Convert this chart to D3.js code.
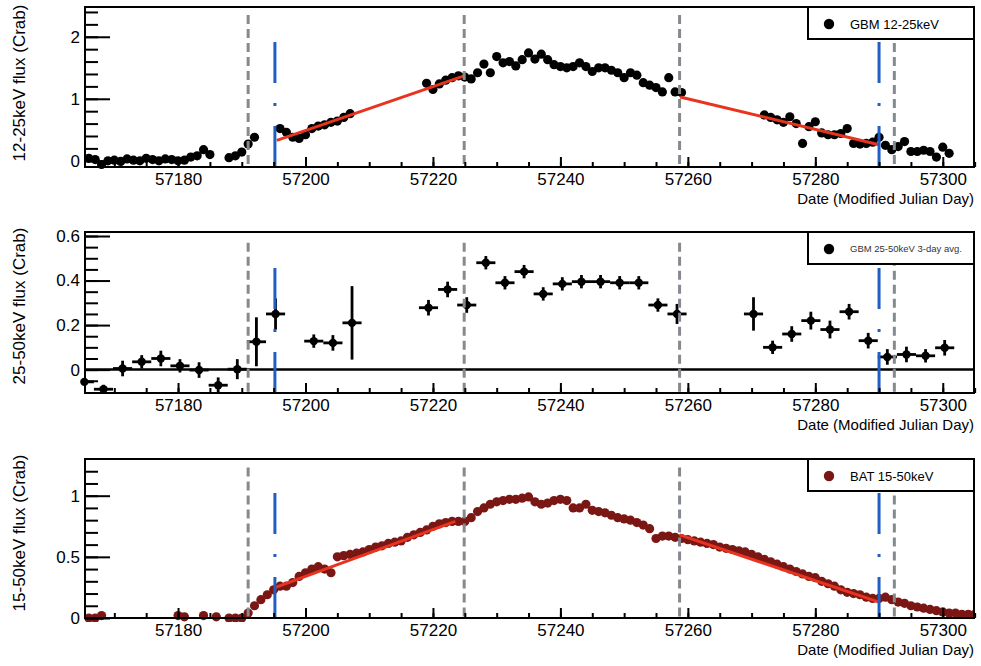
<!DOCTYPE html>
<html>
<head>
<meta charset="utf-8">
<script src="https://cdn.jsdelivr.net/npm/d3@7"></script>
<style>
  body { margin: 0; background: #fff; }
  svg { font-family: "Liberation Sans", Arial, sans-serif; }
</style>
</head>
<body>
<div id="chart"></div>
<script>
// GBM 12-25 keV daily flux (Crab)
var gbmLowDays = [57166, 57167, 57168, 57169, 57170, 57171, 57172, 57173, 57174, 57175,
  57176, 57177, 57178, 57179, 57180, 57181, 57182, 57183, 57184, 57185,
  57188, 57189, 57190, 57191, 57192,
  57196, 57197, 57198, 57199, 57200, 57201, 57202, 57203, 57204, 57205, 57206, 57207,
  57219, 57220, 57221, 57222, 57223, 57224, 57225, 57226, 57227, 57228, 57229, 57230,
  57231, 57232, 57233, 57234, 57235, 57236, 57237, 57238, 57239, 57240, 57241, 57242,
  57243, 57244, 57245, 57246, 57247, 57248, 57249, 57250, 57251, 57252, 57253, 57254,
  57255, 57256, 57257, 57258, 57259,
  57272, 57273, 57274, 57275, 57276, 57277, 57278, 57279, 57280, 57281, 57282, 57283,
  57284, 57285, 57286, 57287, 57288, 57289, 57290, 57291, 57292, 57293, 57294, 57295,
  57296, 57297, 57298, 57299, 57300, 57301];
var gbmLowFlux = [0.04, 0.02, -0.06, 0.00, 0.01, -0.01, 0.03, 0.01, 0.00, 0.04,
  0.02, 0.00, 0.03, 0.02, 0.00, 0.01, 0.06, 0.08, 0.18, 0.10,
  0.05, 0.08, 0.14, 0.27, 0.38,
  0.52, 0.46, 0.38, 0.36, 0.42, 0.52, 0.56, 0.58, 0.62, 0.64, 0.70, 0.76,
  1.25, 1.15, 1.24, 1.30, 1.34, 1.37, 1.35, 1.32, 1.42, 1.56, 1.42, 1.68,
  1.58, 1.60, 1.53, 1.63, 1.74, 1.64, 1.72, 1.63, 1.55, 1.52, 1.50, 1.52,
  1.58, 1.52, 1.44, 1.50, 1.50, 1.46, 1.42, 1.34, 1.42, 1.38, 1.26, 1.22,
  1.18, 1.11, 1.34, 1.11, 1.10,
  0.74, 0.70, 0.66, 0.62, 0.71, 0.60, 0.28, 0.55, 0.63, 0.45, 0.42, 0.42,
  0.44, 0.52, 0.28, 0.27, 0.28, 0.30, 0.38, 0.25, 0.18, 0.23, 0.31, 0.15,
  0.15, 0.17, 0.15, 0.06, 0.22, 0.12];

// GBM 25-50 keV, 3-day averages with errors
var gbmHighDays = [57165.3, 57168.3, 57171.3, 57174.3, 57177.3, 57180.3, 57183.3, 57186.3,
  57189.3, 57192.3, 57195.3, 57201.3, 57204.3, 57207.3, 57219.3, 57222.3, 57225.3,
  57228.3, 57231.3, 57234.3, 57237.3, 57240.3, 57243.3, 57246.3, 57249.3, 57252.3,
  57255.3, 57258.3, 57270.3, 57273.3, 57276.3, 57279.3, 57282.3, 57285.3, 57288.3,
  57291.3, 57294.3, 57297.3, 57300.3];
var gbmHighFlux = [-0.055, -0.088, 0.005, 0.035, 0.05, 0.017, -0.002, -0.07,
  0.002, 0.125, 0.25, 0.128, 0.12, 0.21, 0.278, 0.36, 0.29,
  0.48, 0.39, 0.44, 0.34, 0.385, 0.395, 0.395, 0.39, 0.39,
  0.29, 0.25, 0.25, 0.10, 0.16, 0.22, 0.18, 0.26, 0.13,
  0.057, 0.068, 0.062, 0.098];
var gbmHighErr = [0.025, 0.02, 0.035, 0.03, 0.035, 0.03, 0.035, 0.035,
  0.045, 0.11, 0.07, 0.03, 0.035, 0.165, 0.035, 0.035, 0.035,
  0.03, 0.03, 0.03, 0.03, 0.03, 0.03, 0.03, 0.03, 0.03,
  0.03, 0.045, 0.075, 0.03, 0.035, 0.04, 0.04, 0.035, 0.035,
  0.035, 0.035, 0.03, 0.035];
var binHalfWidth = 1.5;

// BAT 15-50 keV daily flux (Crab)
var batDays = [57166, 57167, 57168, 57180, 57181, 57184, 57186, 57188, 57189, 57190,
  57191, 57192, 57193, 57194, 57195, 57196, 57197, 57198, 57199, 57200,
  57201, 57202, 57203, 57204, 57205, 57206, 57207, 57208, 57209, 57210,
  57211, 57212, 57213, 57214, 57215, 57216, 57217, 57218, 57219, 57220,
  57221, 57222, 57223, 57224, 57225, 57226, 57227, 57228, 57229, 57230,
  57231, 57232, 57233, 57234, 57235, 57236, 57237, 57238, 57239, 57240,
  57241, 57242, 57243, 57244, 57245, 57246, 57247, 57248, 57249, 57250,
  57251, 57252, 57253, 57254, 57255, 57256, 57257, 57258, 57259, 57260,
  57261, 57262, 57263, 57264, 57265, 57266, 57267, 57268, 57269, 57270,
  57271, 57272, 57273, 57274, 57275, 57276, 57277, 57278, 57279, 57280,
  57281, 57282, 57283, 57284, 57285, 57286, 57287, 57288, 57289, 57290,
  57291, 57292, 57293, 57294, 57295, 57296, 57297, 57298, 57299, 57300,
  57301, 57302, 57303, 57304, 57305];
var batFlux = [0.0, 0.0, 0.02, 0.02, 0.01, 0.02, 0.01, 0.0, 0.0, 0.0,
  0.04, 0.10, 0.15, 0.19, 0.23, 0.26, 0.26, 0.29, 0.34, 0.37,
  0.40, 0.42, 0.40, 0.37, 0.50, 0.51, 0.52, 0.53, 0.54, 0.56,
  0.58, 0.59, 0.61, 0.62, 0.63, 0.66, 0.68, 0.70, 0.72, 0.75,
  0.77, 0.78, 0.79, 0.79, 0.79, 0.82, 0.87, 0.90, 0.93, 0.95,
  0.96, 0.97, 0.97, 0.98, 0.99, 0.95, 0.93, 0.94, 0.96, 0.97,
  0.96, 0.90, 0.90, 0.93, 0.88, 0.87, 0.86, 0.84, 0.82, 0.81,
  0.80, 0.78, 0.76, 0.73, 0.65, 0.67, 0.67, 0.66, 0.65, 0.64,
  0.63, 0.62, 0.61, 0.60, 0.58, 0.57, 0.56, 0.55, 0.54, 0.52,
  0.50, 0.48, 0.46, 0.44, 0.42, 0.40, 0.38, 0.36, 0.34, 0.33,
  0.30, 0.28, 0.26, 0.23, 0.21, 0.20, 0.19, 0.17, 0.16, 0.16,
  0.17, 0.15, 0.13, 0.12, 0.10, 0.09, 0.08, 0.07, 0.06, 0.05,
  0.04, 0.04, 0.03, 0.03, 0.03];

// linear fits (start/end day and flux)
var gbmFitDays = [[57195.5, 57224.9], [57258.8, 57290.0]];
var gbmFitFlux = [[0.33, 1.37], [1.03, 0.26]];
var batFitDays = [[57195.3, 57223.5], [57258.7, 57290.0]];
var batFitFlux = [[0.25, 0.79], [0.68, 0.13]];

// marker lines
var grayLineDays = [57191.0, 57224.9, 57258.7, 57292.4];
var blueLineDays = [57195.2, 57290.0];

// axis ticks
var dateTicks = [57180, 57200, 57220, 57240, 57260, 57280, 57300];
var dateMinorTicks = d3.range(57170, 57306, 5);

var svgWidth = 981;
var svgHeight = 666;
var frameLeft = 85;
var frameRight = 974;

var svg = d3.select("#chart")
  .append("svg")
  .attr("width", svgWidth)
  .attr("height", svgHeight);

var x = d3.scaleLinear()
  .domain([57165.4, 57304.9])
  .range([frameLeft, frameRight]);

var panels = [
  {
    id: "a", top: 7, bottom: 167, yDomain: [-0.1, 2.48],
    majorY: [0, 1, 2], minorStep: 0.2, minorMax: 2.4,
    title: "12-25keV flux (Crab)", titleY: 83,
    lineTopGray: 2.35, lineTopBlue: 2.24,
    legend: "GBM 12-25keV", legendSize: 13, legendColor: "#000",
    color: "#000", days: gbmLowDays, flux: gbmLowFlux,
    fitDays: gbmFitDays, fitFlux: gbmFitFlux
  },
  {
    id: "b", top: 232, bottom: 393, yDomain: [-0.105, 0.618],
    majorY: [0, 0.2, 0.4, 0.6], minorStep: 0.05, minorMax: 0.6,
    title: "25-50keV flux (Crab)", titleY: 306,
    lineTopGray: 0.57, lineTopBlue: 0.545,
    legend: "GBM 25-50keV 3-day avg.", legendSize: 9.5, legendColor: "#333",
    color: "#000", days: gbmHighDays, flux: gbmHighFlux, err: gbmHighErr,
    zeroLine: true
  },
  {
    id: "c", top: 459, bottom: 618, yDomain: [0, 1.3],
    majorY: [0, 0.5, 1], minorStep: 0.1, minorMax: 1.2,
    title: "15-50keV flux (Crab)", titleY: 533,
    lineTopGray: 1.23, lineTopBlue: 1.18,
    legend: "BAT 15-50keV", legendSize: 13, legendColor: "#000",
    color: "#7a1714", days: batDays, flux: batFlux,
    fitDays: batFitDays, fitFlux: batFitFlux
  }
];

panels.forEach(drawPanel);

function drawPanel(p) {
  var y = d3.scaleLinear()
    .domain(p.yDomain)
    .range([p.bottom, p.top]);

  svg.append("clipPath")
    .attr("id", "clip-" + p.id)
    .append("rect")
    .attr("x", frameLeft)
    .attr("y", p.top)
    .attr("width", frameRight - frameLeft)
    .attr("height", p.bottom - p.top);

  // markers may poke a little past the left edge, like ROOT does
  svg.append("clipPath")
    .attr("id", "mclip-" + p.id)
    .append("rect")
    .attr("x", frameLeft - 6)
    .attr("y", p.top)
    .attr("width", frameRight - frameLeft + 6)
    .attr("height", p.bottom - p.top + 4);

  var g = svg.append("g").attr("clip-path", "url(#clip-" + p.id + ")");
  var gm = svg.append("g").attr("clip-path", "url(#mclip-" + p.id + ")");
  var gl = svg.append("g").attr("clip-path", "url(#clip-" + p.id + ")");

  // zero line for the 25-50 keV panel
  if (p.zeroLine) {
    g.append("line")
      .attr("x1", frameLeft).attr("x2", frameRight)
      .attr("y1", y(0)).attr("y2", y(0))
      .attr("stroke", "#000")
      .attr("stroke-width", 2.5);
  }

  var pts = p.days.map(function (d, i) {
    return { day: d, flux: p.flux[i], err: p.err ? p.err[i] : 0 };
  });

  // error bars
  if (p.err) {
    g.selectAll(".xerr")
      .data(pts)
      .enter()
      .append("line")
      .attr("x1", d => x(d.day - binHalfWidth))
      .attr("x2", d => x(d.day + binHalfWidth))
      .attr("y1", d => y(d.flux))
      .attr("y2", d => y(d.flux))
      .attr("stroke", p.color)
      .attr("stroke-width", 2.8);
    g.selectAll(".yerr")
      .data(pts)
      .enter()
      .append("line")
      .attr("x1", d => x(d.day))
      .attr("x2", d => x(d.day))
      .attr("y1", d => y(d.flux - d.err))
      .attr("y2", d => y(d.flux + d.err))
      .attr("stroke", p.color)
      .attr("stroke-width", 2.8);
  }

  gm.selectAll("circle")
    .data(pts)
    .enter()
    .append("circle")
    .attr("cx", d => x(d.day))
    .attr("cy", d => y(d.flux))
    .attr("r", p.err ? 4.2 : 4.6)
    .attr("fill", p.color);

  // fits
  if (p.fitDays) {
    p.fitDays.forEach(function (fd, i) {
      gl.append("line")
        .attr("x1", x(fd[0])).attr("x2", x(fd[1]))
        .attr("y1", y(p.fitFlux[i][0])).attr("y2", y(p.fitFlux[i][1]))
        .attr("stroke", "#e8341f")
        .attr("stroke-width", 3);
    });
  }

  // gray dashed lines
  gl.selectAll(".gray")
    .data(grayLineDays)
    .enter()
    .append("line")
    .attr("x1", d => x(d)).attr("x2", d => x(d))
    .attr("y1", y(p.lineTopGray))
    .attr("y2", p.bottom)
    .attr("stroke", "#858a8e")
    .attr("stroke-width", 3)
    .attr("stroke-dasharray", "9,5");

  // blue dash-dot lines, drawn from the bottom up
  gl.selectAll(".blue")
    .data(blueLineDays)
    .enter()
    .append("line")
    .attr("x1", d => x(d)).attr("x2", d => x(d))
    .attr("y1", p.bottom)
    .attr("y2", y(p.lineTopBlue))
    .attr("stroke", "#1f5fc4")
    .attr("stroke-width", 3)
    .attr("stroke-dasharray", "41,20,3,20");

  // legend
  var leg = svg.append("g");
  leg.append("rect")
    .attr("x", 808)
    .attr("y", p.top)
    .attr("width", frameRight - 808)
    .attr("height", 32)
    .attr("fill", "#fff")
    .attr("stroke", "#000")
    .attr("stroke-width", 2);
  leg.append("circle")
    .attr("cx", 829)
    .attr("cy", p.top + 17)
    .attr("r", 5.2)
    .attr("fill", p.color);
  leg.append("text")
    .attr("x", 850)
    .attr("y", p.top + 17)
    .attr("dy", "0.35em")
    .style("font-size", p.legendSize + "px")
    .style("fill", p.legendColor)
    .text(p.legend);

  // axes
  var bottomAxis = d3.axisBottom(x)
    .tickValues(dateTicks)
    .tickFormat(d3.format("d"))
    .tickSizeInner(-10)
    .tickSizeOuter(0)
    .tickPadding(5.5);
  var minorBottom = d3.axisBottom(x)
    .tickValues(dateMinorTicks)
    .tickFormat("")
    .tickSizeInner(-5)
    .tickSizeOuter(0);

  var minorY = d3.range(0, Math.round(p.minorMax / p.minorStep) + 1)
    .map(k => +(k * p.minorStep).toFixed(3));
  if (p.yDomain[0] < -p.minorStep) minorY.unshift(-p.minorStep);
  var leftAxis = d3.axisLeft(y)
    .tickValues(p.majorY)
    .tickFormat(d => d)
    .tickSizeInner(-25)
    .tickSizeOuter(0)
    .tickPadding(5);
  var minorLeft = d3.axisLeft(y)
    .tickValues(minorY)
    .tickFormat("")
    .tickSizeInner(-13)
    .tickSizeOuter(0);

  [[bottomAxis, "translate(0," + p.bottom + ")"],
   [minorBottom, "translate(0," + p.bottom + ")"],
   [leftAxis, "translate(" + frameLeft + ",0)"],
   [minorLeft, "translate(" + frameLeft + ",0)"]].forEach(function (a) {
    var ax = svg.append("g")
      .attr("transform", a[1])
      .call(a[0]);
    ax.select(".domain").remove();
    ax.selectAll("line").attr("stroke", "#000").attr("stroke-width", 2);
    ax.selectAll("text")
      .style("font-size", "17px")
      .style("fill", "#000")
      .attr("font-family", null);
  });

  // frame
  svg.append("rect")
    .attr("x", frameLeft)
    .attr("y", p.top)
    .attr("width", frameRight - frameLeft)
    .attr("height", p.bottom - p.top)
    .attr("fill", "none")
    .attr("stroke", "#000")
    .attr("stroke-width", 2);

  // titles
  svg.append("text")
    .attr("transform", "translate(25," + p.titleY + ") rotate(-90)")
    .attr("text-anchor", "middle")
    .style("font-size", "17px")
    .text(p.title);

  svg.append("text")
    .attr("x", frameRight)
    .attr("y", p.bottom + 37)
    .attr("text-anchor", "end")
    .style("font-size", "15px")
    .text("Date (Modified Julian Day)");
}
</script>
</body>
</html>
